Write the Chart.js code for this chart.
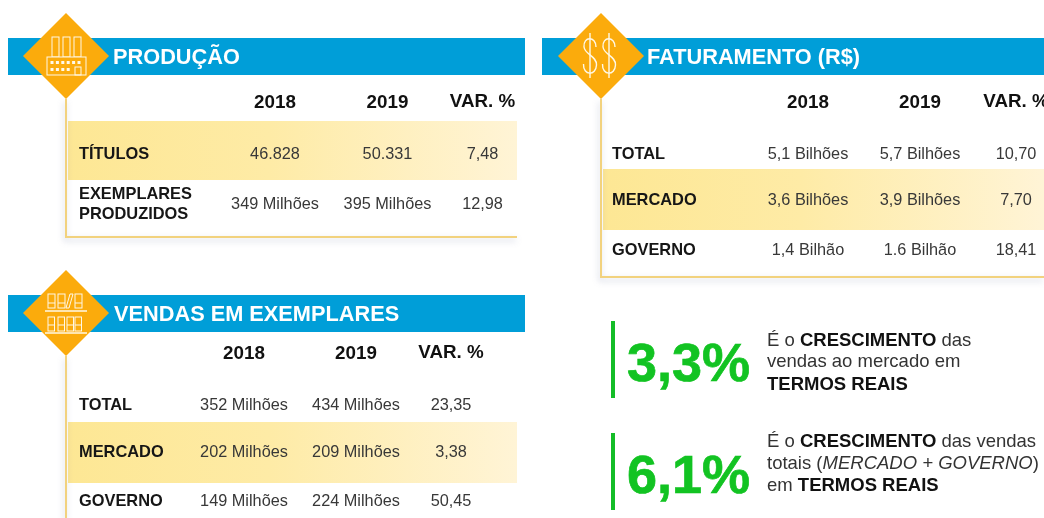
<!DOCTYPE html>
<html lang="pt">
<head>
<meta charset="utf-8">
<title>Produção, Faturamento e Vendas</title>
<style>html,body{margin:0;padding:0;background:#fff;overflow:hidden}canvas{display:block;filter:blur(.55px)}</style>
<script src="https://cdn.jsdelivr.net/npm/chart.js@4/dist/chart.umd.min.js"></script>
</head>
<body>
<canvas id="c" width="1044" height="518"></canvas>
<script>
// ---- data ----
const years = ['2018', '2019', 'VAR. %'];
const prodTitle = 'PRODUÇÃO';
const prodCategories = [['TÍTULOS'], ['EXEMPLARES', 'PRODUZIDOS']];
const prod2018 = ['46.828', '349 Milhões'];
const prod2019 = ['50.331', '395 Milhões'];
const prodVar = ['7,48', '12,98'];

const fatTitle = 'FATURAMENTO (R$)';
const fatCategories = [['TOTAL'], ['MERCADO'], ['GOVERNO']];
const fat2018 = ['5,1 Bilhões', '3,6 Bilhões', '1,4 Bilhão'];
const fat2019 = ['5,7 Bilhões', '3,9 Bilhões', '1.6 Bilhão'];
const fatVar = ['10,70', '7,70', '18,41'];

const vendTitle = 'VENDAS EM EXEMPLARES';
const vendCategories = [['TOTAL'], ['MERCADO'], ['GOVERNO']];
const vend2018 = ['352 Milhões', '202 Milhões', '149 Milhões'];
const vend2019 = ['434 Milhões', '209 Milhões', '224 Milhões'];
const vendVar = ['23,35', '3,38', '50,45'];

const kpiValues = ['3,3%', '6,1%'];
const kpiNotes = [
  [[['É o ', 'n'], ['CRESCIMENTO', 'b'], [' das', 'n']], [['vendas ao mercado em', 'n']], [['TERMOS REAIS', 'b']]],
  [[['É o ', 'n'], ['CRESCIMENTO', 'b'], [' das vendas', 'n']], [['totais (', 'n'], ['MERCADO + GOVERNO', 'i'], [')', 'n']], [['em ', 'n'], ['TERMOS REAIS', 'b']]]
];

// ---- layout (page units, mapped through the chart scales) ----
const panels = [
  {title: prodTitle, titleX: 113, band: [8, 525, 38, 75], diamond: [66, 56], icon: 'factory',
   frame: [[66, 99], [66, 237], [517, 237]], highlight: [68, 517, 121, 180],
   cats: prodCategories, cols: [prod2018, prod2019, prodVar], colX: [275, 387.5, 482.5], headY: 103, varHeadY: 102,
   rowY: [155, 205], labelX: 79},
  {title: fatTitle, titleX: 647, band: [542, 1044, 38, 75], diamond: [601, 56], icon: 'dollar',
   frame: [[601, 99], [601, 277], [1044, 277]], highlight: [603, 1044, 169, 230],
   cats: fatCategories, cols: [fat2018, fat2019, fatVar], colX: [808, 920, 1016], headY: 103, varHeadY: 102,
   rowY: [155, 201, 251], labelX: 612},
  {title: vendTitle, titleX: 114, band: [8, 525, 295, 332], diamond: [66, 313], icon: 'books',
   frame: [[66, 356], [66, 518]], highlight: [68, 517, 422, 483],
   cats: vendCategories, cols: [vend2018, vend2019, vendVar], colX: [244, 356, 451], headY: 354, varHeadY: 353,
   rowY: [406, 453, 502], labelX: 79}
];
const kpis = [
  {bar: [613, 321, 398], numX: 627, numY: 366, noteX: 767, noteY: [341, 362, 385]},
  {bar: [613, 433, 510], numX: 627, numY: 478, noteX: 767, noteY: [442, 464, 486]}
];
const FONT = '"Liberation Sans", Arial, sans-serif';
const BLUE = '#009ed8', ORANGE = '#fbab0c', LINE = '#f2d27e', GREEN = '#12c322';

const tablePlugin = {
  id: 'tablePlugin',
  beforeDatasetsDraw(chart) {
    const {ctx, scales: {x, y}} = chart;
    const px = v => x.getPixelForValue(v), py = v => y.getPixelForValue(v);
    ctx.save();
    panels.forEach(p => {
      ctx.fillStyle = BLUE;
      ctx.fillRect(px(p.band[0]), py(p.band[2]), px(p.band[1]) - px(p.band[0]), py(p.band[3]) - py(p.band[2]));
      const [x0, x1, y0, y1] = p.highlight;
      const g = ctx.createLinearGradient(px(x0), 0, px(x1), 0);
      g.addColorStop(0, '#fde794'); g.addColorStop(.45, '#feeba6'); g.addColorStop(1, '#fff4d6');
      ctx.fillStyle = g;
      ctx.fillRect(px(x0), py(y0), px(x1) - px(x0), py(y1) - py(y0));
      // soft shadow of the frame
      ctx.save();
      ctx.shadowColor = 'rgba(110,120,160,.35)'; ctx.shadowBlur = 6; ctx.shadowOffsetX = -1; ctx.shadowOffsetY = 3;
      ctx.strokeStyle = LINE; ctx.lineWidth = 2;
      ctx.beginPath();
      p.frame.forEach((q, i) => i ? ctx.lineTo(px(q[0]), py(q[1])) : ctx.moveTo(px(q[0]), py(q[1])));
      ctx.stroke();
      ctx.restore();
    });
    ctx.restore();
  },
  afterDatasetsDraw(chart) {
    const {ctx, scales: {x, y}} = chart;
    const px = v => x.getPixelForValue(v), py = v => y.getPixelForValue(v);
    ctx.save();
    ctx.textBaseline = 'middle';
    panels.forEach(p => {
      ctx.textAlign = 'left';
      ctx.fillStyle = '#fff'; ctx.font = 'bold 21.75px ' + FONT;
      ctx.fillText(p.title, px(p.titleX), py((p.band[2] + p.band[3]) / 2 + 1));
      ctx.textAlign = 'center'; ctx.fillStyle = '#111'; ctx.font = 'bold 18.8px ' + FONT;
      years.forEach((h, i) => ctx.fillText(h, px(p.colX[i]), py(i === 2 ? p.varHeadY : p.headY)));
      p.cats.forEach((lines, r) => {
        ctx.textAlign = 'left'; ctx.fillStyle = '#161616'; ctx.font = 'bold 16.4px ' + FONT;
        lines.forEach((t, k) => ctx.fillText(t, px(p.labelX), py(p.rowY[r] - 1 + (k - (lines.length - 1) / 2) * 20)));
        ctx.textAlign = 'center'; ctx.fillStyle = '#383838'; ctx.font = '16.3px ' + FONT;
        p.cols.forEach((col, c) => ctx.fillText(col[r], px(p.colX[c]), py(p.rowY[r])));
      });
      drawIcon(ctx, p.icon, px(p.diamond[0]), py(p.diamond[1]));
    });
    kpis.forEach((k, i) => {
      ctx.textAlign = 'left'; ctx.fillStyle = GREEN; ctx.strokeStyle = GREEN; ctx.lineWidth = .7;
      ctx.font = 'bold 54px ' + FONT;
      ctx.fillText(kpiValues[i], px(k.numX), py(k.numY));
      ctx.strokeText(kpiValues[i], px(k.numX), py(k.numY));
      kpiNotes[i].forEach((segs, l) => {
        let cx = px(k.noteX);
        segs.forEach(([t, s]) => {
          ctx.font = (s === 'b' ? 'bold ' : s === 'i' ? 'italic ' : '') + '18.5px ' + FONT;
          ctx.fillStyle = s === 'b' ? '#111' : '#333';
          ctx.fillText(t, cx, py(k.noteY[l]));
          cx += ctx.measureText(t).width;
        });
      });
    });
    ctx.restore();
  }
};

function drawIcon(ctx, kind, cx, cy) {
  ctx.save();
  ctx.translate(cx, cy);
  ctx.strokeStyle = ctx.fillStyle = '#fff8e6';
  ctx.lineWidth = 1;
  if (kind === 'factory') {
    [-14, -3, 8].forEach(d => ctx.strokeRect(d, -19, 7, 20));
    ctx.fillStyle = ORANGE; ctx.fillRect(-20, 1, 40, 18);
    ctx.strokeRect(-19, 1, 39, 18);
    ctx.fillStyle = '#fff8e6';
    for (let i = 0; i < 6; i++) ctx.fillRect(-15.5 + i * 5.4, 5, 3, 3);
    for (let i = 0; i < 4; i++) ctx.fillRect(-15.5 + i * 5.4, 12, 3, 3);
    ctx.strokeRect(9, 11, 6, 8);
  } else if (kind === 'dollar') {
    [-11, 8].forEach(d => {
      ctx.lineWidth = 1.4;
      ctx.beginPath(); ctx.moveTo(d, -23); ctx.lineTo(d, 22); ctx.stroke();
      ctx.beginPath();
      ctx.moveTo(d + 6, -9);
      ctx.bezierCurveTo(d + 6, -20, d - 7, -20, d - 6, -9);
      ctx.bezierCurveTo(d - 5, -1, d + 7, 0, d + 6.5, 9);
      ctx.bezierCurveTo(d + 6, 20, d - 7, 20, d - 6.5, 8);
      ctx.stroke();
    });
  } else {
    ctx.lineWidth = 1.5;
    [-2, 20].forEach(ly => { ctx.beginPath(); ctx.moveTo(-21, ly); ctx.lineTo(21, ly); ctx.stroke(); });
    ctx.lineWidth = 1;
    [-18, -8, 0, 9].forEach((bx, i) => {
      if (i === 2) {
        ctx.beginPath(); ctx.moveTo(bx, -5); ctx.lineTo(bx + 3, -5); ctx.lineTo(bx + 7, -19); ctx.lineTo(bx + 4, -19); ctx.closePath(); ctx.stroke();
      } else {
        ctx.strokeRect(bx, -19, 7, 14); ctx.beginPath(); ctx.moveTo(bx, -10); ctx.lineTo(bx + 7, -10); ctx.stroke();
      }
    });
    [-18, -8, 1, 9].forEach(bx => {
      ctx.strokeRect(bx, 4, 6.5, 14);
      ctx.beginPath(); ctx.moveTo(bx, 12); ctx.lineTo(bx + 6.5, 12); ctx.stroke();
    });
  }
  ctx.restore();
}

const greenBars = kpis.map(k => ({
  type: 'line', data: [{x: k.bar[0], y: k.bar[1]}, {x: k.bar[0], y: k.bar[2]}],
  borderColor: '#14bd28', borderWidth: 4, pointRadius: 0, borderCapStyle: 'butt', order: 2
}));

new Chart(document.getElementById('c'), {
  type: 'scatter',
  data: {datasets: [
    {data: panels.map(p => ({x: p.diamond[0], y: p.diamond[1]})), pointStyle: 'rectRot', pointRadius: 43,
     backgroundColor: ORANGE, borderColor: ORANGE, borderWidth: 0, order: 1, clip: false},
    ...greenBars
  ]},
  options: {
    responsive: false, animation: false, events: [],
    layout: {padding: 0, autoPadding: false},
    scales: {
      x: {type: 'linear', min: 0, max: 1044, display: false},
      y: {type: 'linear', min: 0, max: 518, reverse: true, display: false}
    },
    plugins: {legend: {display: false}, tooltip: {enabled: false}, title: {display: false}}
  },
  plugins: [tablePlugin]
});
</script>
</body>
</html>
